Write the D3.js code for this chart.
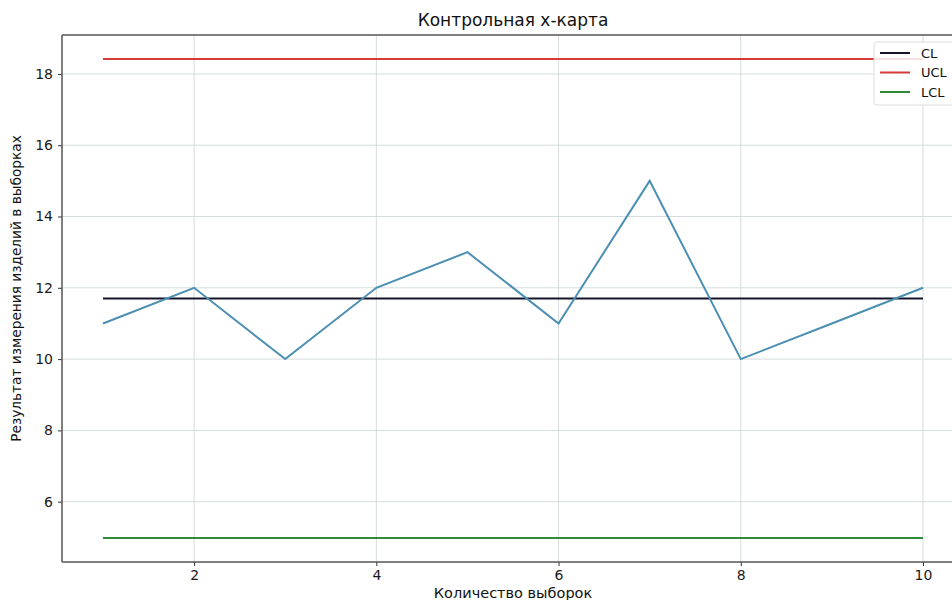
<!DOCTYPE html>
<html>
<head>
<meta charset="utf-8">
<script src="https://cdn.jsdelivr.net/npm/d3@7"></script>
<style>
  html, body { margin: 0; padding: 0; background: #fff; overflow: hidden; }
  svg { display: block; font-family: "DejaVu Sans", sans-serif; }
</style>
</head>
<body>
<svg id="chart" width="952" height="600"></svg>
<script>
const samples = [1, 2, 3, 4, 5, 6, 7, 8, 9, 10];
const values = [11, 12, 10, 12, 13, 11, 15, 10, 11, 12];
const CL = 11.7;
const UCL = 18.42;
const LCL = 4.98;
const xTicks = [2, 4, 6, 8, 10];
const yTicks = [6, 8, 10, 12, 14, 16, 18];
const legendItems = [
  { name: "CL", color: "#14142a" },
  { name: "UCL", color: "#d63b3b" },
  { name: "LCL", color: "#2f8a3c" }
];
const titleText = "Контрольная x-карта";
const xLabel = "Количество выборок";
const yLabel = "Результат измерения изделий в выборках";

const svg = d3.select("#chart");
const pLeft = 62, pRight = 964, pTop = 35, pBottom = 562;

const x = d3.scaleLinear().domain([0.55, 10.45]).range([pLeft, pRight]);
const y = d3.scaleLinear().domain([4.308, 19.092]).range([pBottom, pTop]);

// grid
const grid = svg.append("g");
grid.selectAll(".gx").data(xTicks).enter().append("line")
  .attr("x1", d => x(d)).attr("x2", d => x(d)).attr("y1", pTop).attr("y2", pBottom)
  .attr("stroke", "#d5dcdc").attr("stroke-width", 1);
grid.selectAll(".gy").data(yTicks).enter().append("line")
  .attr("y1", d => y(d)).attr("y2", d => y(d)).attr("x1", pLeft).attr("x2", pRight)
  .attr("stroke", "#d5dcdc").attr("stroke-width", 1);

// limit lines
function hline(val, color) {
  svg.append("line")
    .attr("x1", x(samples[0])).attr("x2", x(samples[samples.length - 1]))
    .attr("y1", y(val)).attr("y2", y(val))
    .attr("stroke", color).attr("stroke-width", 2);
}
hline(CL, legendItems[0].color);
hline(UCL, legendItems[1].color);
hline(LCL, legendItems[2].color);

// data line
const line = d3.line().x((d, i) => x(samples[i])).y(d => y(d));
svg.append("path").datum(values)
  .attr("d", line).attr("fill", "none")
  .attr("stroke", "#4b8fb2").attr("stroke-width", 2).attr("stroke-linejoin", "miter");

// axes
const xAxis = d3.axisBottom(x).tickValues(xTicks).tickSize(4).tickPadding(4).tickFormat(d3.format("d"));
const yAxis = d3.axisLeft(y).tickValues(yTicks).tickSize(4).tickPadding(5).tickFormat(d3.format("d"));
const gx = svg.append("g").attr("transform", `translate(0,${pBottom})`).call(xAxis);
const gy = svg.append("g").attr("transform", `translate(${pLeft},0)`).call(yAxis);
[gx, gy].forEach(g => {
  g.select(".domain").remove();
  g.selectAll(".tick line").attr("stroke", "#333").attr("stroke-width", 1);
  g.selectAll(".tick text").attr("fill", "#1a1a1a").style("font-size", "14px")
    .style("font-family", "DejaVu Sans, sans-serif");
});

// spines
svg.append("line").attr("x1", pLeft).attr("x2", pLeft).attr("y1", pTop).attr("y2", pBottom)
  .attr("stroke", "#555").attr("stroke-width", 1.5);
svg.append("line").attr("x1", pLeft).attr("x2", pRight).attr("y1", pBottom).attr("y2", pBottom)
  .attr("stroke", "#555").attr("stroke-width", 1.5);
svg.append("line").attr("x1", pLeft).attr("x2", pRight).attr("y1", pTop).attr("y2", pTop)
  .attr("stroke", "#555").attr("stroke-width", 1.5);

// title & labels
svg.append("text").attr("x", (pLeft + pRight) / 2).attr("y", 26)
  .attr("text-anchor", "middle").style("font-size", "17px").attr("fill", "#111").text(titleText);
svg.append("text").attr("x", (pLeft + pRight) / 2).attr("y", 598)
  .attr("text-anchor", "middle").style("font-size", "14.5px").attr("fill", "#111").text(xLabel);
svg.append("text").attr("transform", `translate(21,${(pTop + pBottom) / 2 - 10}) rotate(-90)`)
  .attr("text-anchor", "middle").style("font-size", "13.7px").attr("fill", "#111").text(yLabel);

// legend
const lg = svg.append("g");
lg.append("rect").attr("x", 874).attr("y", 42).attr("width", 84).attr("height", 63)
  .attr("rx", 3).attr("fill", "rgba(255,255,255,0.85)").attr("stroke", "#dcdcdc");
legendItems.forEach((it, i) => {
  const yy = 53 + i * 19.5;
  lg.append("line").attr("x1", 880).attr("x2", 910).attr("y1", yy).attr("y2", yy)
    .attr("stroke", it.color).attr("stroke-width", 2);
  lg.append("text").attr("x", 921).attr("y", yy + 4.5).style("font-size", "13px")
    .attr("fill", "#111").text(it.name);
});
</script>
</body>
</html>
